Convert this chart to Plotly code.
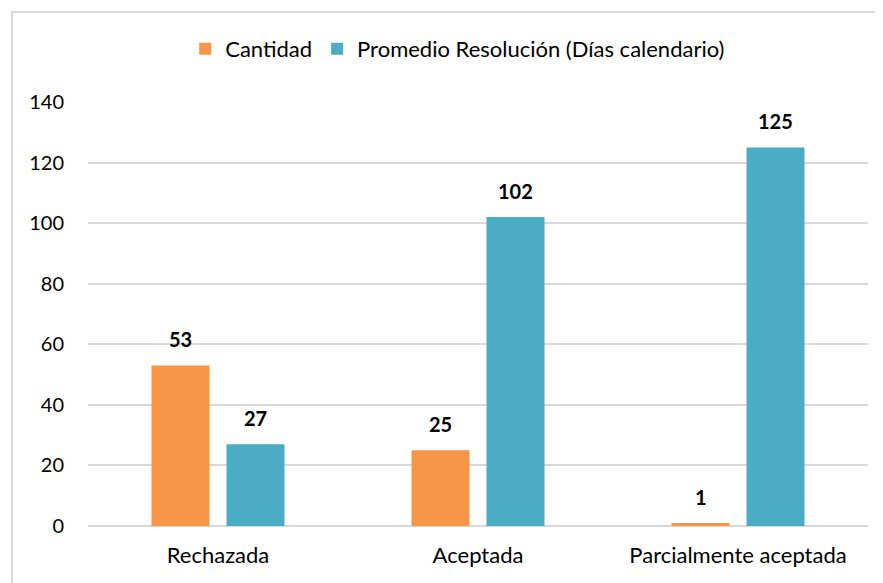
import plotly.graph_objects as go

categorias = ["Rechazada", "Aceptada", "Parcialmente aceptada"]
cantidad = [53, 25, 1]
promedio = [27, 102, 125]
y_ticks = [0, 20, 40, 60, 80, 100, 120, 140]

NARANJA = "#F79646"
AZUL = "#4BACC6"
FUENTE = "Lato, Open Sans, sans-serif"

fig = go.Figure()
fig.add_trace(go.Bar(x=categorias, y=cantidad, name="Cantidad",
                     marker=dict(color=NARANJA, line=dict(width=0))))
fig.add_trace(go.Bar(x=categorias, y=promedio, name="Promedio Resolución (Días calendario)",
                     marker=dict(color=AZUL, line=dict(width=0))))

# etiquetas de datos en negrita sobre cada barra
for serie, desplaz in ((cantidad, -37.5), (promedio, 37.5)):
    for cat, val in zip(categorias, serie):
        fig.add_annotation(x=cat, y=val, text="<b>%d</b>" % val, showarrow=False,
                           xshift=desplaz, yshift=12, yanchor="bottom",
                           font=dict(size=20, color="#000000", family=FUENTE))

# marco exterior (solo se ven los bordes superior e izquierdo)
fig.add_shape(type="rect", xref="paper", yref="paper",
              x0=-0.0974, x1=1.2, y0=-0.3, y1=1.2123,
              line=dict(color="#D9D9D9", width=2), fillcolor="rgba(0,0,0,0)")

# la pagina tiene 8px de margen en el body
fig.update_layout(
    width=875, height=575,
    margin=dict(l=80, r=15, t=94, b=57, autoexpand=False),
    paper_bgcolor="white", plot_bgcolor="white",
    barmode="group", bargap=0.423, bargroupgap=0.227,
    font=dict(family=FUENTE, size=20, color="#000000"),
    showlegend=True,
    legend=dict(orientation="h", x=0.474, xanchor="center", y=1.125, yanchor="middle",
                font=dict(size=22), itemwidth=30, traceorder="normal"),
    xaxis=dict(showgrid=False, ticks="", showline=False, tickfont=dict(size=22),
               automargin=False, ticklabelstandoff=14),
    yaxis=dict(range=[0, 140], tickvals=y_ticks, showgrid=True, gridcolor="#D9D9D9",
               gridwidth=1.5, zeroline=True, zerolinecolor="#D9D9D9", zerolinewidth=1.5,
               ticks="", showline=False, tickfont=dict(size=20), ticklabelstandoff=23,
               automargin=False),
)

fig.write_html("out.html")
